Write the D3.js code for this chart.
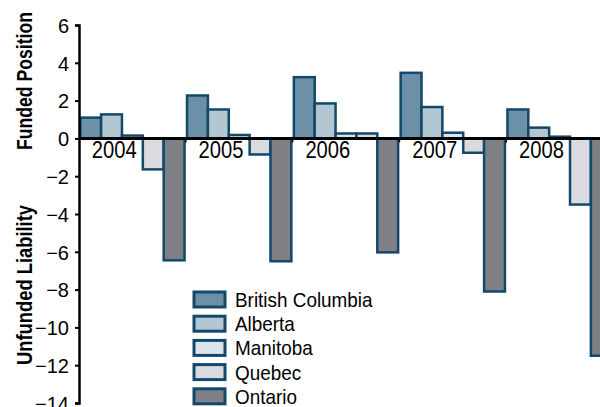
<!DOCTYPE html>
<html>
<head>
<meta charset="utf-8">
<script src="https://cdn.jsdelivr.net/npm/d3@7"></script>
<style>
  body { margin: 0; background: #fff; }
  svg { display: block; }
  text { font-family: "Liberation Sans", Arial, sans-serif; fill: #000; }
</style>
</head>
<body>
<svg id="chart"></svg>
<script>
// data
const years = ["2004", "2005", "2006", "2007", "2008"]
const provinces = ["British Columbia", "Alberta", "Manitoba", "Quebec", "Ontario"]
const britishColumbia = [1.1, 2.27, 3.24, 3.47, 1.53]
const alberta = [1.27, 1.53, 1.85, 1.66, 0.57]
const manitoba = [0.15, 0.18, 0.26, 0.3, 0.09]
const quebec = [-1.64, -0.85, 0.26, -0.76, -3.5]
const ontario = [-6.45, -6.5, -6.03, -8.1, -11.5]
const yTicks = [6, 4, 2, 0, -2, -4, -6, -8, -10, -12, -14]

const series = [britishColumbia, alberta, manitoba, quebec, ontario]
const fills = ["#6b90a8", "#b3c7d3", "#dde4ec", "#dadbde", "#7f8085"]
const strokeCol = "#12496b"

const width = 600, height = 407
const svg = d3.select("#chart").attr("width", width).attr("height", height)

// plot area runs past the right edge of the picture, like the original
const left = 79
const bandW = 106.8
const x = d3.scaleBand()
    .domain(years)
    .range([left, left + bandW * years.length])
    .paddingInner(0)
const inner = d3.scaleBand()
    .domain(provinces)
    .range([0, x.bandwidth()])
    .paddingOuter(0.06)
    .paddingInner(0)
const y = d3.scaleLinear().domain([-14, 6]).range([403, 25])

// bars
const rows = []
years.forEach((yr, i) => {
    provinces.forEach((p, j) => {
        rows.push({ year: yr, prov: p, v: series[j][i], j: j })
    })
})
svg.append("g").selectAll("rect").data(rows).enter().append("rect")
    .attr("x", d => x(d.year) + inner(d.prov))
    .attr("y", d => y(Math.max(0, d.v)))
    .attr("width", inner.bandwidth())
    .attr("height", d => Math.abs(y(d.v) - y(0)))
    .attr("fill", d => fills[d.j])
    .attr("stroke", strokeCol)
    .attr("stroke-width", 2.5)

// y axis
const yAxis = d3.axisLeft(y).tickValues(yTicks).tickSize(4).tickPadding(6)
const yg = svg.append("g").attr("transform", `translate(${left},0)`).call(yAxis)
yg.select(".domain").attr("stroke", "#000").attr("stroke-width", 2.5)
yg.selectAll(".tick line").attr("stroke", "#000").attr("stroke-width", 2)
yg.selectAll(".tick text")
    .attr("font-family", "'Liberation Sans', Arial, sans-serif")
    .attr("font-size", 20)
    .attr("fill", "#000")
    .attr("dy", "0.36em")

// zero line with small category ticks
svg.append("line")
    .attr("x1", left).attr("x2", width)
    .attr("y1", y(0)).attr("y2", y(0))
    .attr("stroke", "#000").attr("stroke-width", 3)
svg.append("g").selectAll("line").data(years.slice(1)).enter().append("line")
    .attr("x1", d => x(d)).attr("x2", d => x(d))
    .attr("y1", y(0)).attr("y2", y(0) + 4)
    .attr("stroke", "#000").attr("stroke-width", 1.5)

// year labels sit left of band centre, condensed look via scaleX
svg.append("g").selectAll("text").data(years).enter().append("text")
    .attr("transform", d => `translate(${x(d) + x.bandwidth() * 0.33},${y(0) + 20}) scale(0.86,1)`)
    .attr("text-anchor", "middle")
    .attr("font-size", 23.5)
    .text(d => d)

// axis titles
svg.append("text")
    .attr("transform", `translate(32,81) rotate(-90)`)
    .attr("text-anchor", "middle")
    .attr("font-weight", "bold")
    .attr("font-size", 22)
    .attr("textLength", 138)
    .attr("lengthAdjust", "spacingAndGlyphs")
    .text("Funded Position")
svg.append("text")
    .attr("transform", `translate(32,285) rotate(-90)`)
    .attr("text-anchor", "middle")
    .attr("font-weight", "bold")
    .attr("font-size", 22)
    .attr("textLength", 160)
    .attr("lengthAdjust", "spacingAndGlyphs")
    .text("Unfunded Liability")

// legend
const legend = svg.append("g").attr("transform", "translate(194,292)")
const item = legend.selectAll("g").data(provinces).enter().append("g")
    .attr("transform", (d, i) => `translate(0,${i * 24.2})`)
item.append("rect")
    .attr("x", 0).attr("y", 0)
    .attr("width", 31).attr("height", 15)
    .attr("fill", (d, i) => fills[i])
    .attr("stroke", strokeCol)
    .attr("stroke-width", 3)
item.append("text")
    .attr("transform", "translate(41,15) scale(0.9,1)")
    .attr("font-size", 21)
    .text(d => d)
</script>
</body>
</html>
